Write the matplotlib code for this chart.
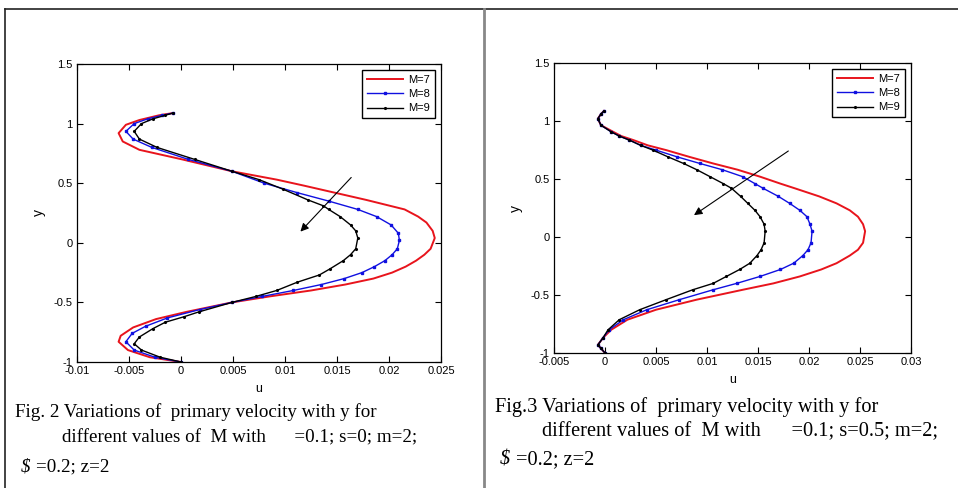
import matplotlib
matplotlib.use('Agg')
import matplotlib.pyplot as plt
from matplotlib.lines import Line2D
from matplotlib.ticker import FormatStrFormatter, MultipleLocator

plt.rcParams['font.family'] = 'Liberation Sans'
plt.rcParams['axes.unicode_minus'] = False

# Fig. 2 (s=0) : y positions and primary velocity u for M = 7, 8, 9
y_m7_fig2 = [-1.0, -0.96, -0.9, -0.83, -0.78, -0.71, -0.64, -0.58, -0.5, -0.45, -0.4, -0.35, -0.3,
             -0.25, -0.2, -0.15, -0.1, -0.05, 0.04, 0.1, 0.17, 0.22, 0.28, 0.36, 0.42, 0.48, 0.53,
             0.6, 0.7, 0.78, 0.85, 0.92, 0.99, 1.03, 1.07, 1.088]
u_m7_fig2 = [0.0, -0.003, -0.0051, -0.006, -0.0058, -0.0046, -0.0024, 0.0005, 0.0049, 0.0085,
             0.0125, 0.0158, 0.0185, 0.0203, 0.0216, 0.0226, 0.0234, 0.024, 0.0244, 0.0242, 0.0236,
             0.0228, 0.0215, 0.0178, 0.0148, 0.0118, 0.0092, 0.0049, 0.0001, -0.004, -0.0056,
             -0.006, -0.0053, -0.004, -0.0021, -0.0008]

y_m8_fig2 = [-1.0, -0.96, -0.9, -0.83, -0.76, -0.7, -0.63, -0.56, -0.5, -0.45, -0.4, -0.35, -0.3,
             -0.25, -0.2, -0.15, -0.1, -0.05, 0.02, 0.08, 0.15, 0.22, 0.28, 0.35, 0.42, 0.5, 0.6,
             0.7, 0.8, 0.87, 0.935, 1.0, 1.04, 1.07, 1.088]
u_m8_fig2 = [0.0, -0.0025, -0.0045, -0.0053, -0.0047, -0.0034, -0.0013, 0.0018, 0.0049, 0.0078,
             0.0108, 0.0135, 0.0157, 0.0174, 0.0186, 0.0196, 0.0203, 0.0208, 0.021, 0.0209, 0.0202,
             0.0188, 0.017, 0.0142, 0.0112, 0.008, 0.0049, 0.0007, -0.0028, -0.0046, -0.0053,
             -0.0045, -0.0032, -0.0018, -0.0008]

y_m9_fig2 = [-1.0, -0.96, -0.9, -0.847, -0.79, -0.72, -0.666, -0.62, -0.58, -0.5, -0.45, -0.4,
             -0.33, -0.27, -0.22, -0.15, -0.1, -0.05, 0.04, 0.1, 0.15, 0.22, 0.28, 0.31, 0.36, 0.45,
             0.53, 0.6, 0.7, 0.8, 0.87, 0.935, 1.0, 1.04, 1.07, 1.088]
u_m9_fig2 = [0.0, -0.002, -0.0038, -0.0045, -0.004, -0.0027, -0.0015, 0.0003, 0.0017, 0.0049,
             0.0072, 0.0092, 0.0112, 0.0133, 0.0143, 0.0156, 0.0163, 0.0168, 0.017, 0.0168, 0.0163,
             0.0153, 0.0142, 0.0137, 0.0122, 0.0098, 0.0075, 0.0049, 0.0013, -0.0023, -0.004,
             -0.0045, -0.0038, -0.0027, -0.0015, -0.0008]

# Fig. 3 (s=0.5)
y_fig3 = [-1.0, -0.96, -0.93, -0.87, -0.8, -0.713, -0.627, -0.54, -0.455, -0.4, -0.34, -0.28,
          -0.226, -0.16, -0.11, -0.05, 0.05, 0.11, 0.175, 0.23, 0.29, 0.35, 0.42, 0.46, 0.52, 0.58,
          0.634, 0.69, 0.749, 0.79, 0.835, 0.87, 0.907, 0.964, 1.02, 1.06, 1.087]
u_m7_fig3 = [0.0, -0.0004, -0.0007, -0.0002, 0.0006, 0.0022, 0.005, 0.009, 0.0135, 0.0165, 0.0191,
             0.0212, 0.0227, 0.024, 0.0248, 0.0253, 0.0255, 0.0253, 0.0248, 0.024, 0.0227, 0.021,
             0.0186, 0.0172, 0.0152, 0.013, 0.0106, 0.0083, 0.006, 0.0042, 0.0028, 0.0016, 0.0008,
             -0.0004, -0.0007, -0.0004, -0.0001]
u_m8_fig3 = [0.0, -0.0004, -0.0007, -0.0002, 0.0004, 0.0018, 0.0041, 0.0073, 0.0106, 0.0129, 0.0152,
             0.0172, 0.0185, 0.0194, 0.0199, 0.0202, 0.0203, 0.0201, 0.0198, 0.0191, 0.0181, 0.017,
             0.0155, 0.0147, 0.0135, 0.0115, 0.0093, 0.0071, 0.005, 0.0035, 0.0024, 0.0014, 0.0006,
             -0.0004, -0.0007, -0.0004, -0.0001]
u_m9_fig3 = [0.0, -0.0004, -0.0007, -0.0002, 0.0003, 0.0014, 0.0034, 0.006, 0.0086, 0.0106, 0.0119,
             0.0132, 0.0142, 0.0149, 0.0153, 0.0156, 0.0157, 0.0156, 0.0152, 0.0147, 0.014, 0.0133,
             0.0124, 0.0116, 0.0103, 0.009, 0.0077, 0.0062, 0.0047, 0.0035, 0.0024, 0.0014, 0.0006,
             -0.0004, -0.0007, -0.0004, -0.0001]

labels = ['M=7', 'M=8', 'M=9']

W, H = 958, 488
fig = plt.figure(figsize=(W / 100, H / 100), dpi=100)


def px_axes(x0, y0, x1, y1):
    return fig.add_axes([x0 / W, 1 - y1 / H, (x1 - x0) / W, (y1 - y0) / H])


def style(ax, xlim, xstep):
    ax.set_xlim(*xlim)
    ax.set_ylim(-1, 1.5)
    ax.xaxis.set_major_locator(MultipleLocator(xstep))
    ax.yaxis.set_major_locator(MultipleLocator(0.5))
    ax.xaxis.set_major_formatter(FormatStrFormatter('%g'))
    ax.yaxis.set_major_formatter(FormatStrFormatter('%g'))
    ax.tick_params(direction='in', top=True, right=True, length=4, width=0.8,
                   labelsize=8, pad=3)
    for s in ax.spines.values():
        s.set_linewidth(0.9)
    ax.set_xlabel('u', fontsize=9, labelpad=5)
    ax.set_ylabel('y', fontsize=10, labelpad=6)


def curves(ax, y7, u7, y8, u8, y9, u9):
    ax.plot(u7, y7, color='#e8141c', lw=1.4, label=labels[0])
    ax.plot(u8, y8, color='#1010e0', lw=1.0, marker='s', ms=2, label=labels[1])
    ax.plot(u9, y9, color='black', lw=1.0, marker='.', ms=2.5, label=labels[2])
    leg = ax.legend(loc='upper right', fontsize=8, fancybox=False, framealpha=1,
                    edgecolor='black', handlelength=3.2, labelspacing=0.4,
                    borderaxespad=0.5, borderpad=0.45, handletextpad=0.5)
    leg.get_frame().set_linewidth(1.0)


ax1 = px_axes(77, 64, 441, 362)
curves(ax1, y_m7_fig2, u_m7_fig2, y_m8_fig2, u_m8_fig2, y_m9_fig2, u_m9_fig2)
style(ax1, (-0.01, 0.025), 0.005)
ax1.annotate('', xy=(0.0113, 0.077), xytext=(0.01655, 0.565),
             arrowprops=dict(arrowstyle='-|>', color='black', lw=0.8, mutation_scale=12))

ax2 = px_axes(554, 63, 911, 353)
curves(ax2, y_fig3, u_m7_fig3, y_fig3, u_m8_fig3, y_fig3, u_m9_fig3)
style(ax2, (-0.005, 0.03), 0.005)
ax2.annotate('', xy=(0.0085, 0.175), xytext=(0.0182, 0.755),
             arrowprops=dict(arrowstyle='-|>', color='black', lw=0.8, mutation_scale=12))

# table borders of the page
fig.add_artist(Line2D([5 / W, 1], [1 - 8.5 / H, 1 - 8.5 / H], color='#222222', lw=1.2))
fig.add_artist(Line2D([5 / W, 5 / W], [0, 1 - 8.5 / H], color='#222222', lw=1.2))
fig.add_artist(Line2D([484 / W, 484 / W], [0, 1 - 8.5 / H], color='#888888', lw=2))

# captions
cap_l = dict(family='Liberation Serif', fontsize=13.7, va='center', ha='left')
cap_r = dict(family='Liberation Serif', fontsize=14.7, va='center', ha='left')
fig.text(15 / W, 1 - 412 / H, 'Fig. 2 Variations of  primary velocity with y for', **cap_l)
fig.text(62 / W, 1 - 438 / H, 'different values of  M with      =0.1; s=0; m=2;', **cap_l)
fig.text(21 / W, 1 - 467 / H, '$', style='italic', **cap_l)
fig.text(36 / W, 1 - 467 / H, '=0.2; z=2', **cap_l)
fig.text(495 / W, 1 - 407 / H, 'Fig.3 Variations of  primary velocity with y for', **cap_r)
fig.text(542 / W, 1 - 432 / H, 'different values of  M with      =0.1; s=0.5; m=2;', **cap_r)
fig.text(500 / W, 1 - 460 / H, '$', style='italic', **cap_r)
fig.text(516 / W, 1 - 460 / H, '=0.2; z=2', **cap_r)

fig.savefig('out.png', dpi=100)
